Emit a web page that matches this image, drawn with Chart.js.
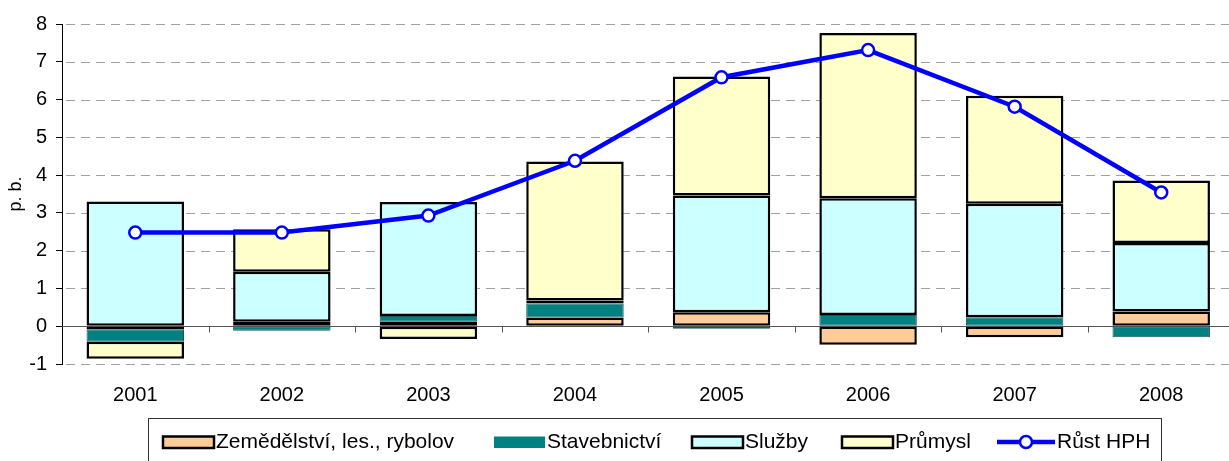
<!DOCTYPE html>
<html>
<head>
<meta charset="utf-8">
<script src="https://cdn.jsdelivr.net/npm/chart.js@4.4.1/dist/chart.umd.min.js"></script>
<style>
  html, body { margin: 0; padding: 0; background: #fff; overflow: hidden; }
  canvas { display: block; }
</style>
</head>
<body>
<canvas id="chart" width="1243" height="461"></canvas>
<script>
// data (p. b.)
const years = ["2001", "2002", "2003", "2004", "2005", "2006", "2007", "2008"];
const seriesNames = ["Zemědělství, les., rybolov", "Stavebnictví", "Služby", "Průmysl", "Růst HPH"];
const zemedelstvi = [-0.08, 0.12, 0.12, 0.23, 0.37, -0.49, -0.29, 0.39];
const stavebnictvi = [-0.33, -0.12, 0.15, 0.37, -0.07, 0.30, 0.24, -0.29];
const sluzby = [3.30, 1.32, 3.02, 0.08, 3.09, 3.09, 3.00, 1.81];
const prumysl = [-0.45, 1.13, -0.34, 3.68, 3.15, 4.37, 2.86, 1.66];
const rustHPH = [2.48, 2.48, 2.93, 4.38, 6.59, 7.31, 5.81, 3.54];
const yMin = -1, yMax = 8, yStep = 1;

const FONT = "'Liberation Sans', Arial, sans-serif";
const colors = ["#FFCC99", "#008080", "#CCFFFF", "#FFFFCC"];
const borders = ["#000", "#1f5555", "#000", "#000"];

// dashed grid, solid zero line + small ticks on it between categories
const gridLines = {
  id: "gridLines",
  beforeDatasetsDraw(chart) {
    const { ctx, chartArea, scales: { x, y } } = chart;
    ctx.save();
    ctx.lineWidth = 1;
    ctx.strokeStyle = "#a0a0a0";
    ctx.setLineDash([9, 6]);
    ctx.beginPath();
    y.ticks.forEach((t) => {
      if (t.value === 0) return;
      const py = Math.round(y.getPixelForValue(t.value)) + 0.5;
      ctx.moveTo(chartArea.left + 4, py);
      ctx.lineTo(chartArea.right, py);
    });
    ctx.stroke();

    ctx.setLineDash([]);
    const y0 = Math.round(y.getPixelForValue(0)) + 0.5;
    ctx.strokeStyle = "#555";
    ctx.beginPath();
    ctx.moveTo(chartArea.left, y0);
    ctx.lineTo(chartArea.right, y0);
    for (let i = 1; i < years.length; i++) {
      const xb = Math.round((x.getPixelForValue(i - 1) + x.getPixelForValue(i)) / 2) + 0.5;
      ctx.moveTo(xb, y0);
      ctx.lineTo(xb, y0 + 6);
    }
    ctx.stroke();
    ctx.restore();
  }
};

// boxed legend like the original
const boxLegend = {
  id: "boxLegend",
  afterDraw(chart) {
    const ctx = chart.ctx;
    ctx.save();
    ctx.strokeStyle = "#333";
    ctx.lineWidth = 1;
    ctx.strokeRect(148.5, 418.5, 1013, 60);

    const swatchX = [163, 494, 692, 842];
    ctx.font = "21px " + FONT;
    ctx.textBaseline = "alphabetic";
    for (let i = 0; i < 4; i++) {
      ctx.fillStyle = colors[i];
      ctx.fillRect(swatchX[i], 436.5, 51, 11.5);
      if (i !== 1) {
        ctx.strokeStyle = "#000";
        ctx.lineWidth = 2.5;
        ctx.strokeRect(swatchX[i], 436.5, 51, 11.5);
      }
      ctx.fillStyle = "#000";
      ctx.fillText(seriesNames[i], swatchX[i] + 53, 448);
    }
    // line item
    ctx.strokeStyle = "#0000FF";
    ctx.lineWidth = 4.5;
    ctx.beginPath();
    ctx.moveTo(997, 442);
    ctx.lineTo(1055, 442);
    ctx.stroke();
    ctx.beginPath();
    ctx.arc(1026, 442, 6, 0, Math.PI * 2);
    ctx.fillStyle = "#fff";
    ctx.fill();
    ctx.lineWidth = 2.5;
    ctx.stroke();
    ctx.fillStyle = "#000";
    ctx.fillText(seriesNames[4], 1057, 448);
    ctx.restore();
  }
};

const barSeries = [zemedelstvi, stavebnictvi, sluzby, prumysl];

new Chart(document.getElementById("chart"), {
  type: "bar",
  data: {
    labels: years,
    datasets: [
      {
        type: "line",
        label: seriesNames[4],
        data: rustHPH,
        stack: "line",
        order: -1,
        borderColor: "#0000FF",
        borderWidth: 4.5,
        tension: 0,
        pointRadius: 6,
        pointBorderWidth: 2.5,
        pointBackgroundColor: "#fff",
        pointBorderColor: "#0000FF"
      },
      ...barSeries.map((vals, i) => ({
        label: seriesNames[i],
        data: vals,
        stack: "bars",
        backgroundColor: colors[i],
        borderColor: borders[i],
        borderWidth: i === 1 ? 1 : 2.5,
        borderSkipped: false,
        barPercentage: 0.665,
        categoryPercentage: 1
      }))
    ]
  },
  options: {
    responsive: false,
    animation: false,
    layout: { padding: { left: 0, right: 1, top: 24, bottom: 0 } },
    plugins: { legend: { display: false }, tooltip: { enabled: false } },
    scales: {
      x: {
        stacked: true,
        grid: { display: false },
        border: { display: false },
        ticks: { color: "#000", font: { family: FONT, size: 20 }, padding: 11 },
        afterFit(scale) { scale.height = 97; }
      },
      y: {
        stacked: true,
        min: yMin,
        max: yMax,
        ticks: { stepSize: yStep, color: "#000", font: { family: FONT, size: 20 }, padding: 9 },
        grid: {
          color: "rgba(0,0,0,0)",
          tickColor: "#000",
          tickLength: 6,
          lineWidth: 1
        },
        border: { display: true, color: "#000", width: 1 },
        title: { display: true, text: "p. b.", color: "#000", font: { family: FONT, size: 18 }, padding: { top: 5, bottom: 0 } },
        afterFit(scale) { scale.width = 62; }
      }
    }
  },
  plugins: [gridLines, boxLegend]
});
</script>
</body>
</html>
